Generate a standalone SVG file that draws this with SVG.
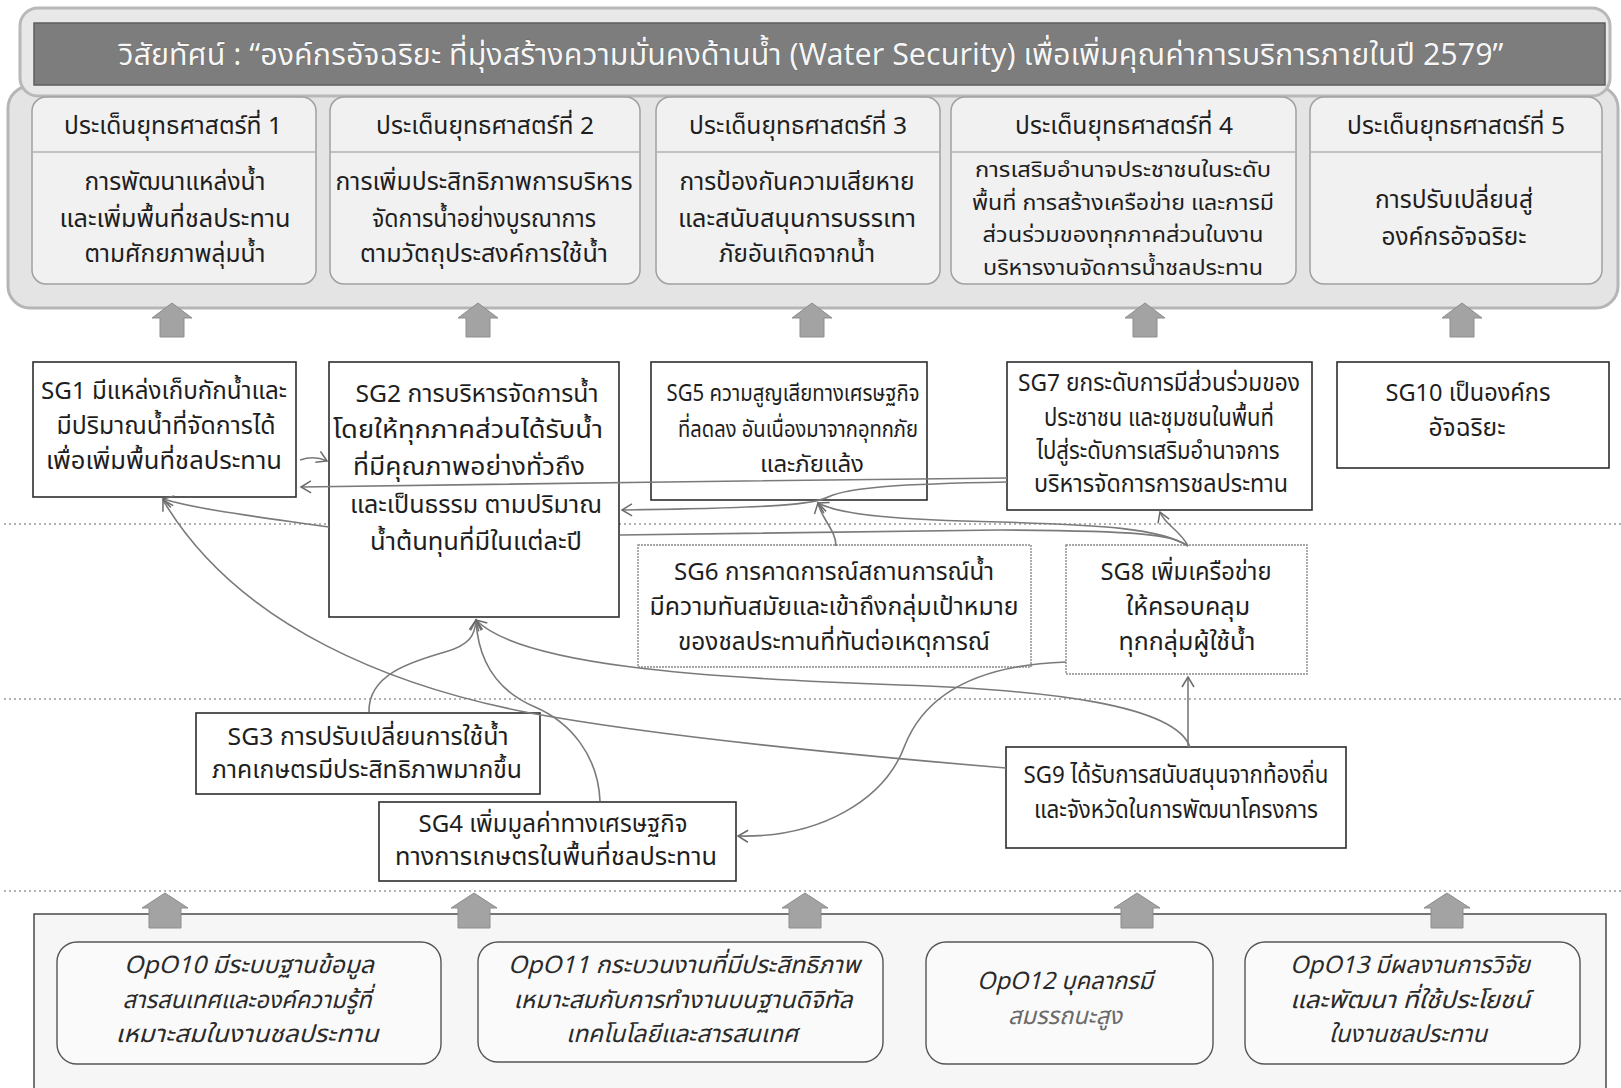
<svg xmlns="http://www.w3.org/2000/svg" width="1621" height="1088" viewBox="0 0 1621 1088">
<style>
text{font-family:"Noto Sans Thai","Noto Sans","DejaVu Sans",sans-serif;text-anchor:middle;fill:#1e1e1e}
.t{font-size:24px}
.s{font-size:23.5px}
.h{font-size:24px}
.b{font-size:24px}
.b4{font-size:22px}
.v{font-size:30px;fill:#f6f6f6;stroke:#5a5a5a;stroke-width:0.6;paint-order:stroke}
.op{font-size:24px;font-style:italic;fill:#2a2a2a}
.sg{fill:#fff;stroke:#2d2d2d;stroke-width:1.6}
.sgd{fill:#fff;stroke:#8a8a8a;stroke-width:1.4;stroke-dasharray:2 1}
.col{fill:#f1f1f1;stroke:#a0a0a0;stroke-width:1.5}
.opb{fill:#fafafa;stroke:#555;stroke-width:1.4}
.dot{stroke:#9a9a9a;stroke-width:1.5;stroke-dasharray:2 3}
.blk{fill:#a3a3a3;stroke:#8d8d8d;stroke-width:1}
.c{fill:none;stroke:#7a7a7a;stroke-width:1.6;marker-end:url(#ah)}
</style>
<defs>
<marker id="ah" markerWidth="14" markerHeight="14" refX="11" refY="7" orient="auto" markerUnits="userSpaceOnUse">
<path d="M1,1 L11,7 L1,13" fill="none" stroke="#6a6a6a" stroke-width="1.5"/>
</marker>
</defs>
<rect width="1621" height="1088" fill="#fff"/>

<g id="vision-frame">
<rect x="8" y="86" width="1610" height="222" rx="22" fill="#e4e4e4" stroke="#b5b5b5" stroke-width="3"/>
<rect x="20" y="8" width="1590" height="88" rx="18" fill="#e8e8e8" stroke="#b8b8b8" stroke-width="3"/>
</g>
<g id="vision">
<rect x="34" y="23" width="1571" height="62" fill="#7d7d7d" stroke="#5e5e5e" stroke-width="1.5"/>
<text class="v" x="811" y="65" textLength="1385" lengthAdjust="spacingAndGlyphs">วิสัยทัศน์ : “องค์กรอัจฉริยะ ที่มุ่งสร้างความมั่นคงด้านน้ำ (Water Security) เพื่อเพิ่มคุณค่าการบริการภายในปี 2579”</text>
</g>

<g id="issue1">
<rect class="col" x="32" y="97" width="284" height="187" rx="14"/>
<line x1="32" y1="152" x2="316" y2="152" stroke="#b0b0b0" stroke-width="1.5"/>
<text class="h" x="173" y="134" textLength="218" lengthAdjust="spacingAndGlyphs">ประเด็นยุทธศาสตร์ที่ 1</text>
<text class="b" x="175" y="190" textLength="181" lengthAdjust="spacingAndGlyphs">การพัฒนาแหล่งน้ำ</text>
<text class="b" x="175" y="227" textLength="231" lengthAdjust="spacingAndGlyphs">และเพิ่มพื้นที่ชลประทาน</text>
<text class="b" x="175" y="262" textLength="181" lengthAdjust="spacingAndGlyphs">ตามศักยภาพลุ่มน้ำ</text>
</g>
<g id="issue2">
<rect class="col" x="330" y="97" width="310" height="187" rx="14"/>
<line x1="330" y1="152" x2="640" y2="152" stroke="#b0b0b0" stroke-width="1.5"/>
<text class="h" x="485" y="134" textLength="218" lengthAdjust="spacingAndGlyphs">ประเด็นยุทธศาสตร์ที่ 2</text>
<text class="b" x="484" y="190" textLength="297" lengthAdjust="spacingAndGlyphs">การเพิ่มประสิทธิภาพการบริหาร</text>
<text class="b" x="484" y="227" textLength="224" lengthAdjust="spacingAndGlyphs">จัดการน้ำอย่างบูรณาการ</text>
<text class="b" x="484" y="262" textLength="248" lengthAdjust="spacingAndGlyphs">ตามวัตถุประสงค์การใช้น้ำ</text>
</g>
<g id="issue3">
<rect class="col" x="656" y="97" width="284" height="187" rx="14"/>
<line x1="656" y1="152" x2="940" y2="152" stroke="#b0b0b0" stroke-width="1.5"/>
<text class="h" x="798" y="134" textLength="218" lengthAdjust="spacingAndGlyphs">ประเด็นยุทธศาสตร์ที่ 3</text>
<text class="b" x="797" y="190" textLength="235" lengthAdjust="spacingAndGlyphs">การป้องกันความเสียหาย</text>
<text class="b" x="797" y="227" textLength="238" lengthAdjust="spacingAndGlyphs">และสนับสนุนการบรรเทา</text>
<text class="b" x="797" y="262" textLength="156" lengthAdjust="spacingAndGlyphs">ภัยอันเกิดจากน้ำ</text>
</g>
<g id="issue4">
<rect class="col" x="951" y="97" width="345" height="187" rx="14"/>
<line x1="951" y1="152" x2="1296" y2="152" stroke="#b0b0b0" stroke-width="1.5"/>
<text class="h" x="1124" y="134" textLength="218" lengthAdjust="spacingAndGlyphs">ประเด็นยุทธศาสตร์ที่ 4</text>
<text class="b4" x="1123" y="177" textLength="296" lengthAdjust="spacingAndGlyphs">การเสริมอำนาจประชาชนในระดับ</text>
<text class="b4" x="1123" y="210" textLength="302" lengthAdjust="spacingAndGlyphs">พื้นที่ การสร้างเครือข่าย และการมี</text>
<text class="b4" x="1123" y="242" textLength="281" lengthAdjust="spacingAndGlyphs">ส่วนร่วมของทุกภาคส่วนในงาน</text>
<text class="b4" x="1123" y="275" textLength="280" lengthAdjust="spacingAndGlyphs">บริหารงานจัดการน้ำชลประทาน</text>
</g>
<g id="issue5">
<rect class="col" x="1310" y="97" width="292" height="187" rx="14"/>
<line x1="1310" y1="152" x2="1602" y2="152" stroke="#b0b0b0" stroke-width="1.5"/>
<text class="h" x="1456" y="134" textLength="218" lengthAdjust="spacingAndGlyphs">ประเด็นยุทธศาสตร์ที่ 5</text>
<text class="b" x="1454" y="208" textLength="158" lengthAdjust="spacingAndGlyphs">การปรับเปลี่ยนสู่</text>
<text class="b" x="1454" y="245" textLength="145" lengthAdjust="spacingAndGlyphs">องค์กรอัจฉริยะ</text>
</g>

<g id="up-arrows-top">
<path class="blk" d="M172,303 L192,318 L184,318 L184,337 L160,337 L160,318 L152,318 Z"/>
<path class="blk" d="M478,303 L498,318 L490,318 L490,337 L466,337 L466,318 L458,318 Z"/>
<path class="blk" d="M812,303 L832,318 L824,318 L824,337 L800,337 L800,318 L792,318 Z"/>
<path class="blk" d="M1145,303 L1165,318 L1157,318 L1157,337 L1133,337 L1133,318 L1125,318 Z"/>
<path class="blk" d="M1462,303 L1482,318 L1474,318 L1474,337 L1450,337 L1450,318 L1442,318 Z"/>
</g>

<g id="guides">
<line class="dot" x1="4" y1="524" x2="1621" y2="524"/>
<line class="dot" x1="4" y1="699" x2="1621" y2="699"/>
<line class="dot" x1="4" y1="891" x2="1621" y2="891"/>
</g>

<g id="SG1">
<rect class="sg" x="33" y="362" width="263" height="135"/>
<text class="t" x="164" y="399" textLength="246" lengthAdjust="spacingAndGlyphs">SG1 มีแหล่งเก็บกักน้ำและ</text>
<text class="t" x="166" y="434" textLength="219" lengthAdjust="spacingAndGlyphs">มีปริมาณน้ำที่จัดการได้</text>
<text class="t" x="164" y="469" textLength="236" lengthAdjust="spacingAndGlyphs">เพื่อเพิ่มพื้นที่ชลประทาน</text>
</g>
<g id="SG2">
<rect class="sg" x="329" y="362" width="290" height="255"/>
<text class="t" x="477" y="402" textLength="243" lengthAdjust="spacingAndGlyphs">SG2 การบริหารจัดการน้ำ</text>
<text class="t" x="468" y="438" textLength="270" lengthAdjust="spacingAndGlyphs">โดยให้ทุกภาคส่วนได้รับน้ำ</text>
<text class="t" x="469" y="475" textLength="232" lengthAdjust="spacingAndGlyphs">ที่มีคุณภาพอย่างทั่วถึง</text>
<text class="t" x="476" y="513" textLength="252" lengthAdjust="spacingAndGlyphs">และเป็นธรรม ตามปริมาณ</text>
<text class="t" x="476" y="550" textLength="212" lengthAdjust="spacingAndGlyphs">น้ำต้นทุนที่มีในแต่ละปี</text>
</g>
<g id="SG5">
<rect class="sg" x="651" y="362" width="276" height="138"/>
<text class="s" x="793" y="401" textLength="253" lengthAdjust="spacingAndGlyphs">SG5 ความสูญเสียทางเศรษฐกิจ</text>
<text class="s" x="798" y="437" textLength="240" lengthAdjust="spacingAndGlyphs">ที่ลดลง อันเนื่องมาจากอุทกภัย</text>
<text class="s" x="812" y="472" textLength="104" lengthAdjust="spacingAndGlyphs">และภัยแล้ง</text>
</g>
<g id="SG7">
<rect class="sg" x="1007" y="362" width="305" height="148"/>
<text class="t" x="1159" y="391" textLength="282" lengthAdjust="spacingAndGlyphs">SG7 ยกระดับการมีส่วนร่วมของ</text>
<text class="t" x="1159" y="426" textLength="230" lengthAdjust="spacingAndGlyphs">ประชาชน และชุมชนในพื้นที่</text>
<text class="t" x="1158" y="459" textLength="243" lengthAdjust="spacingAndGlyphs">ไปสู่ระดับการเสริมอำนาจการ</text>
<text class="t" x="1161" y="492" textLength="254" lengthAdjust="spacingAndGlyphs">บริหารจัดการการชลประทาน</text>
</g>
<g id="SG10">
<rect class="sg" x="1337" y="362" width="272" height="106"/>
<text class="t" x="1468" y="401" textLength="165" lengthAdjust="spacingAndGlyphs">SG10 เป็นองค์กร</text>
<text class="t" x="1467" y="436" textLength="77" lengthAdjust="spacingAndGlyphs">อัจฉริยะ</text>
</g>
<g id="SG6">
<rect class="sgd" x="638" y="545" width="393" height="122"/>
<text class="t" x="834" y="580" textLength="320" lengthAdjust="spacingAndGlyphs">SG6 การคาดการณ์สถานการณ์น้ำ</text>
<text class="t" x="834" y="615" textLength="369" lengthAdjust="spacingAndGlyphs">มีความทันสมัยและเข้าถึงกลุ่มเป้าหมาย</text>
<text class="t" x="834" y="650" textLength="312" lengthAdjust="spacingAndGlyphs">ของชลประทานที่ทันต่อเหตุการณ์</text>
</g>
<g id="SG8">
<rect class="sgd" x="1066" y="545" width="241" height="129"/>
<text class="t" x="1186" y="580" textLength="171" lengthAdjust="spacingAndGlyphs">SG8 เพิ่มเครือข่าย</text>
<text class="t" x="1188" y="615" textLength="124" lengthAdjust="spacingAndGlyphs">ให้ครอบคลุม</text>
<text class="t" x="1187" y="650" textLength="137" lengthAdjust="spacingAndGlyphs">ทุกกลุ่มผู้ใช้น้ำ</text>
</g>
<g id="SG3">
<rect class="sg" x="196" y="713" width="344" height="81"/>
<text class="t" x="368" y="745" textLength="281" lengthAdjust="spacingAndGlyphs">SG3 การปรับเปลี่ยนการใช้น้ำ</text>
<text class="t" x="367" y="778" textLength="310" lengthAdjust="spacingAndGlyphs">ภาคเกษตรมีประสิทธิภาพมากขึ้น</text>
</g>
<g id="SG4">
<rect class="sg" x="379" y="802" width="357" height="79"/>
<text class="t" x="553" y="832" textLength="269" lengthAdjust="spacingAndGlyphs">SG4 เพิ่มมูลค่าทางเศรษฐกิจ</text>
<text class="t" x="556" y="865" textLength="322" lengthAdjust="spacingAndGlyphs">ทางการเกษตรในพื้นที่ชลประทาน</text>
</g>
<g id="SG9">
<rect class="sg" x="1006" y="747" width="340" height="101"/>
<text class="t" x="1176" y="783" textLength="305" lengthAdjust="spacingAndGlyphs">SG9 ได้รับการสนับสนุนจากท้องถิ่น</text>
<text class="t" x="1176" y="818" textLength="284" lengthAdjust="spacingAndGlyphs">และจังหวัดในการพัฒนาโครงการ</text>
</g>

<g id="connectors">
<path class="c" d="M300,460 Q314,455 327,461"/>
<path class="c" d="M1007,478 C800,480 500,484 301,487"/>
<path class="c" d="M1007,482 C900,484 850,487 828,497 C815,504 780,508 622,510"/>
<path class="c" d="M836,546 C836,530 822,520 818,503"/>
<path class="c" d="M1188,546 C1160,528 1100,525 1000,522 C900,520 840,515 818,503"/>
<path class="c" d="M1188,546 C1180,530 1165,525 1160,512"/>
<path class="c" d="M1188,546 C1170,534 1140,531 1000,530 L620,535 M329,527 C260,517 200,510 163,499"/>
<path class="c" d="M1006,768 C850,755 650,735 530,713 C400,688 240,630 163,500"/>
<path class="c" d="M1190,747 C1175,705 1050,690 900,685 C700,678 520,665 476,620"/>
<path class="c" d="M1066,662 C975,665 925,695 905,745 C885,800 820,838 738,836"/>
<path class="c" d="M1188,747 L1188,677"/>
<path class="c" d="M369,712 C368,675 410,662 445,652 C470,645 475,635 476,620"/>
<path class="c" d="M600,801 C598,755 570,722 535,707 C495,690 478,660 476,620"/>
</g>

<g id="operations-panel">
<path d="M34,1088 L34,914 L1606,914 L1606,1088" fill="#f6f6f6" stroke="#4a4a4a" stroke-width="1.5"/>
</g>
<g id="up-arrows-bottom">
<path class="blk" d="M165,893 L188,908 L181,908 L181,928 L149,928 L149,908 L142,908 Z"/>
<path class="blk" d="M474,893 L497,908 L490,908 L490,928 L458,928 L458,908 L451,908 Z"/>
<path class="blk" d="M805,893 L828,908 L821,908 L821,928 L789,928 L789,908 L782,908 Z"/>
<path class="blk" d="M1137,893 L1160,908 L1153,908 L1153,928 L1121,928 L1121,908 L1114,908 Z"/>
<path class="blk" d="M1447,893 L1470,908 L1463,908 L1463,928 L1431,928 L1431,908 L1424,908 Z"/>
</g>
<g id="OpO10">
<rect class="opb" x="57" y="942" width="384" height="122" rx="20"/>
<text class="op" x="249" y="973" textLength="250" lengthAdjust="spacingAndGlyphs">OpO10 มีระบบฐานข้อมูล</text>
<text class="op" x="247" y="1008" textLength="249" lengthAdjust="spacingAndGlyphs">สารสนเทศและองค์ความรู้ที่</text>
<text class="op" x="247" y="1042" textLength="263" lengthAdjust="spacingAndGlyphs">เหมาะสมในงานชลประทาน</text>
</g>
<g id="OpO11">
<rect class="opb" x="478" y="942" width="405" height="120" rx="20"/>
<text class="op" x="684" y="973" textLength="352" lengthAdjust="spacingAndGlyphs">OpO11 กระบวนงานที่มีประสิทธิภาพ</text>
<text class="op" x="683" y="1008" textLength="339" lengthAdjust="spacingAndGlyphs">เหมาะสมกับการทำงานบนฐานดิจิทัล</text>
<text class="op" x="682" y="1042" textLength="232" lengthAdjust="spacingAndGlyphs">เทคโนโลยีและสารสนเทศ</text>
</g>
<g id="OpO12">
<rect class="opb" x="926" y="942" width="287" height="122" rx="20"/>
<text class="op" x="1065" y="989" textLength="176" lengthAdjust="spacingAndGlyphs">OpO12 บุคลากรมี</text>
<text class="op" x="1065" y="1024" textLength="114" lengthAdjust="spacingAndGlyphs" style="fill:#6a6a6a">สมรรถนะสูง</text>
</g>
<g id="OpO13">
<rect class="opb" x="1245" y="942" width="335" height="122" rx="20"/>
<text class="op" x="1410" y="973" textLength="240" lengthAdjust="spacingAndGlyphs">OpO13 มีผลงานการวิจัย</text>
<text class="op" x="1410" y="1008" textLength="240" lengthAdjust="spacingAndGlyphs">และพัฒนา ที่ใช้ประโยชน์</text>
<text class="op" x="1408" y="1042" textLength="158" lengthAdjust="spacingAndGlyphs">ในงานชลประทาน</text>
</g>
</svg>
